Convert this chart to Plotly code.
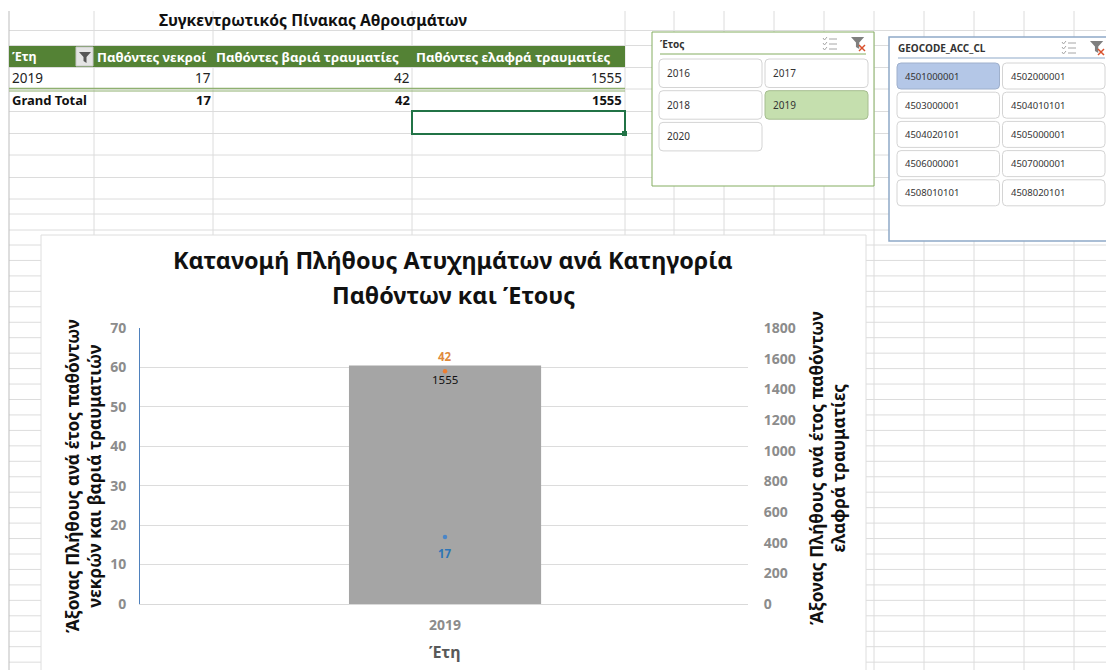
import plotly.graph_objects as go

# Values of the pivot table and the chart built on it
years = ["2019"]
killed = [17]
severe = [42]
slight = [1555]

slicer_years = ["2016", "2017", "2018", "2019", "2020"]
selected_year = "2019"
geocodes = ["4501000001", "4502000001", "4503000001", "4504010101", "4504020101",
            "4505000001", "4506000001", "4507000001", "4508010101", "4508020101"]
selected_geocode = "4501000001"

W, H = 1106, 670
GRID = "#dcdcdc"
FONT = "Noto Sans"
shapes, notes = [], []


def fx(x):
    return x / W


def fy(y):
    return 1 - y / H


def line(x0, y0, x1, y1, color=GRID, width=1):
    shapes.append(dict(type="line", xref="paper", yref="paper", x0=fx(x0), y0=fy(y0), x1=fx(x1), y1=fy(y1),
                       line=dict(color=color, width=width), layer="below"))


def rect(x0, y0, x1, y1, fill="white", color=None, width=1):
    shapes.append(dict(type="rect", xref="paper", yref="paper", x0=fx(x0), y0=fy(y0), x1=fx(x1), y1=fy(y1),
                       fillcolor=fill, line=dict(color=color or "rgba(0,0,0,0)", width=width), layer="below"))


def round_rect(x0, y0, x1, y1, r=4, fill="white", color="#d4d4d4"):
    p = (f"M {fx(x0 + r)} {fy(y0)} L {fx(x1 - r)} {fy(y0)} Q {fx(x1)} {fy(y0)} {fx(x1)} {fy(y0 + r)} "
         f"L {fx(x1)} {fy(y1 - r)} Q {fx(x1)} {fy(y1)} {fx(x1 - r)} {fy(y1)} "
         f"L {fx(x0 + r)} {fy(y1)} Q {fx(x0)} {fy(y1)} {fx(x0)} {fy(y1 - r)} "
         f"L {fx(x0)} {fy(y0 + r)} Q {fx(x0)} {fy(y0)} {fx(x0 + r)} {fy(y0)} Z")
    shapes.append(dict(type="path", xref="paper", yref="paper", path=p, fillcolor=fill,
                       line=dict(color=color, width=1), layer="below"))


def poly(points, fill=None, color=None, width=1):
    p = "M " + " L ".join(f"{fx(x)} {fy(y)}" for x, y in points)
    if fill:
        p += " Z"
    shapes.append(dict(type="path", xref="paper", yref="paper", path=p, fillcolor=fill,
                       line=dict(color=color or "rgba(0,0,0,0)", width=width), layer="below"))


def label(x, y, s, size=12, color="#222222", bold=False, anchor="left", angle=0, family=FONT):
    notes.append(dict(xref="paper", yref="paper", x=fx(x), y=fy(y), text=s, showarrow=False,
                      xanchor=anchor, yanchor="middle", textangle=angle, align="center",
                      borderpad=0, borderwidth=0,
                      font=dict(family=family, size=size, color=color, weight=700 if bold else 400)))


def funnel(x, y, color="#7f7f7f", k=1.0):
    poly([(x, y), (x + 12 * k, y), (x + 7.5 * k, y + 5 * k), (x + 7.5 * k, y + 11 * k),
          (x + 4.5 * k, y + 9 * k), (x + 4.5 * k, y + 5 * k)], fill=color)


def slicer_icons(x, y):
    # multi-select list icon followed by the clear-filter funnel
    for i in range(3):
        line(x + 6, y + i * 5, x + 14, y + i * 5, "#a6a6a6")
        poly([(x, y + i * 5 - 1), (x + 1.5, y + i * 5 + 1), (x + 4, y + i * 5 - 2)], color="#a6a6a6")
    funnel(x + 28, y - 2, "#7f7f7f", 1.1)
    line(x + 36, y + 6, x + 42, y + 12, "#d9512c", 1.5)
    line(x + 42, y + 6, x + 36, y + 12, "#d9512c", 1.5)


# Worksheet cell grid
rows_top = [30.5, 45.5, 67.5, 89, 111.5, 133.5, 155, 177.5, 199, 214, 230]
rows_low = [245 + 15.45 * i for i in range(28)]
for y in rows_top + rows_low:
    line(9, y, W, y)
for x in [94, 213, 412, 625, 674, 724, 774, 824]:
    line(x, 11, x, 236)
for x in [874, 924, 974, 1024, 1074]:
    line(x, 11, x, H)
line(9, 11, 9, H, "#bdbdbd")

# Pivot table
label(313, 20, "Συγκεντρωτικός Πίνακας Αθροισμάτων", size=15.7, bold=True, anchor="center", color="#111111")
rect(9, 46, 625, 67, fill="#548235")
label(12, 56.5, "Έτη", size=12.5, color="white", bold=True)
rect(76, 47, 93, 66, fill="#e4e4e4", color="#c8c8c8")
funnel(79, 52, "#555555")
label(97, 56.5, "Παθόντες νεκροί", size=13.2, color="white", bold=True)
label(216, 56.5, "Παθόντες βαριά τραυματίες", size=13.2, color="white", bold=True)
label(416, 56.5, "Παθόντες ελαφρά τραυματίες", size=13.2, color="white", bold=True)
label(12, 78, years[0], size=13.5)
label(211, 78, str(killed[0]), size=13.5, anchor="right")
label(410, 78, str(severe[0]), size=13.5, anchor="right")
label(622, 78, str(slight[0]), size=13.5, anchor="right")
line(9, 88.5, 625, 88.5, "#8fb070", 1.5)
line(9, 91, 625, 91, "#8fb070", 1)
label(12, 100, "Grand Total", size=13, bold=True, color="#111111")
label(211, 100, str(sum(killed)), size=13, anchor="right", bold=True, color="#111111")
label(410, 100, str(sum(severe)), size=13, anchor="right", bold=True, color="#111111")
label(622, 100, str(sum(slight)), size=13, anchor="right", bold=True, color="#111111")
rect(412, 111, 625, 134, fill="rgba(0,0,0,0)", color="#217346", width=2)
rect(622, 131, 627, 136, fill="#217346")

# Year slicer
rect(652, 32, 874, 186, color="#84ad60", width=1)
label(660, 44, "Έτος", size=10, bold=True, color="#333333")
line(660, 54, 866, 54, "#84ad60", 1)
slicer_icons(823, 39)
for i, yr in enumerate(slicer_years):
    c, r = i % 2, i // 2
    x0, y0 = 659 + c * 106, 59 + r * 31.7
    on = yr == selected_year
    round_rect(x0, y0, x0 + 103, y0 + 28.5, fill="#c5dfae" if on else "white",
               color="#a6bd90" if on else "#d4d4d4")
    label(x0 + 8, y0 + 14, yr, size=10, color="#333333")

# Area code slicer
rect(889, 37, W + 4, 241, color="#8fa9c8", width=1.5)
label(898, 48, "GEOCODE_ACC_CL", size=10, bold=True, color="#333333")
line(898, 58, 1105, 58, "#8fa9c8", 1)
slicer_icons(1062, 43)
for i, code in enumerate(geocodes):
    c, r = i % 2, i // 2
    x0, y0 = 897 + c * 105.5, 63 + r * 29.2
    on = code == selected_geocode
    round_rect(x0, y0, x0 + 102.5, y0 + 26, fill="#b4c7e7" if on else "white",
               color="#9fb0cc" if on else "#d4d4d4")
    label(x0 + 8, y0 + 13, code, size=9.5, color="#333333")

# Chart sheet
rect(41, 235, 866, H + 4, color="#dedede")
label(453, 260, "Κατανομή Πλήθους Ατυχημάτων ανά Κατηγορία", size=23.4, bold=True, anchor="center", color="#111111")
label(453, 295, "Παθόντων και Έτους", size=23.4, bold=True, anchor="center", color="#111111")
label(83, 476, "Άξονας Πλήθους ανά έτος παθόντων<br>νεκρών και βαριά τραυματιών", size=17.3, bold=True,
      anchor="center", angle=-90, color="#111111")
label(827, 468, "Άξονας Πλήθους ανά έτος παθόντων<br>ελαφρά τραυματίες", size=17.3, bold=True,
      anchor="center", angle=-90, color="#111111")
label(445, 652, "Έτη", size=16, bold=True, anchor="center", color="#595959")

fig = go.Figure()
fig.add_bar(x=years, y=slight, yaxis="y2", xaxis="x", name="Παθόντες ελαφρά τραυματίες",
            marker=dict(color="#a5a5a5", line=dict(width=0)), width=0.316)
fig.add_scatter(x=years, y=killed, yaxis="y", xaxis="x", name="Παθόντες νεκροί", mode="markers",
                stackgroup="people", fill="none", line=dict(width=0),
                marker=dict(color="#4a86c8", size=4.5))
fig.add_scatter(x=years, y=severe, yaxis="y", xaxis="x", name="Παθόντες βαριά τραυματίες", mode="markers",
                stackgroup="people", fill="none", line=dict(width=0),
                marker=dict(color="#ed7d31", size=4.5))

# Value labels follow their marks on the chart's axes
for yref, yval, txt, shift, col in [
    ("y", killed[0], killed[0], -17, "#2e75b6"),
    ("y", killed[0] + severe[0], severe[0], 15, "#e08a3c"),
    ("y2", slight[0], slight[0], -14, "#111111"),
]:
    notes.append(dict(xref="x", yref=yref, x=0, y=yval, text=str(txt), showarrow=False, yshift=shift,
                      font=dict(family=FONT, size=11.5, color=col,
                                weight=400 if yref == "y2" else 700)))

tick_font = dict(family=FONT, size=14, color="#8c8c8c", weight=700)
fig.update_layout(
    width=W, height=H, autosize=False, showlegend=False,
    margin=dict(l=0, r=0, t=0, b=0),
    paper_bgcolor="white", plot_bgcolor="rgba(0,0,0,0)",
    shapes=shapes, annotations=notes,
    xaxis=dict(domain=[fx(140), fx(748)], type="category", range=[-0.5017, 0.4983], tickfont=tick_font, showgrid=False,
               showline=True, linecolor="#d9d9d9", ticks="outside", ticklen=8, tickcolor="rgba(0,0,0,0)",
               zeroline=False, automargin=False, anchor="y2"),
    yaxis2=dict(domain=[fy(604), fy(328)], side="right", anchor="x", range=[0, 1800], dtick=200,
                tickfont=tick_font, showgrid=False, zeroline=False, showline=False, ticks="outside",
                ticklen=12, tickcolor="rgba(0,0,0,0)", automargin=False),
    yaxis=dict(domain=[fy(604), fy(328)], side="left", anchor="x", overlaying="y2", range=[0, 70], dtick=10,
               tickfont=tick_font, showgrid=True, gridcolor="#dcdcdc", gridwidth=1, zeroline=False,
               showline=True, linecolor="#4f81bd", ticks="outside", ticklen=10,
               tickcolor="rgba(0,0,0,0)", automargin=False),
)

fig.write_html("out.html", config=dict(displayModeBar=False))
